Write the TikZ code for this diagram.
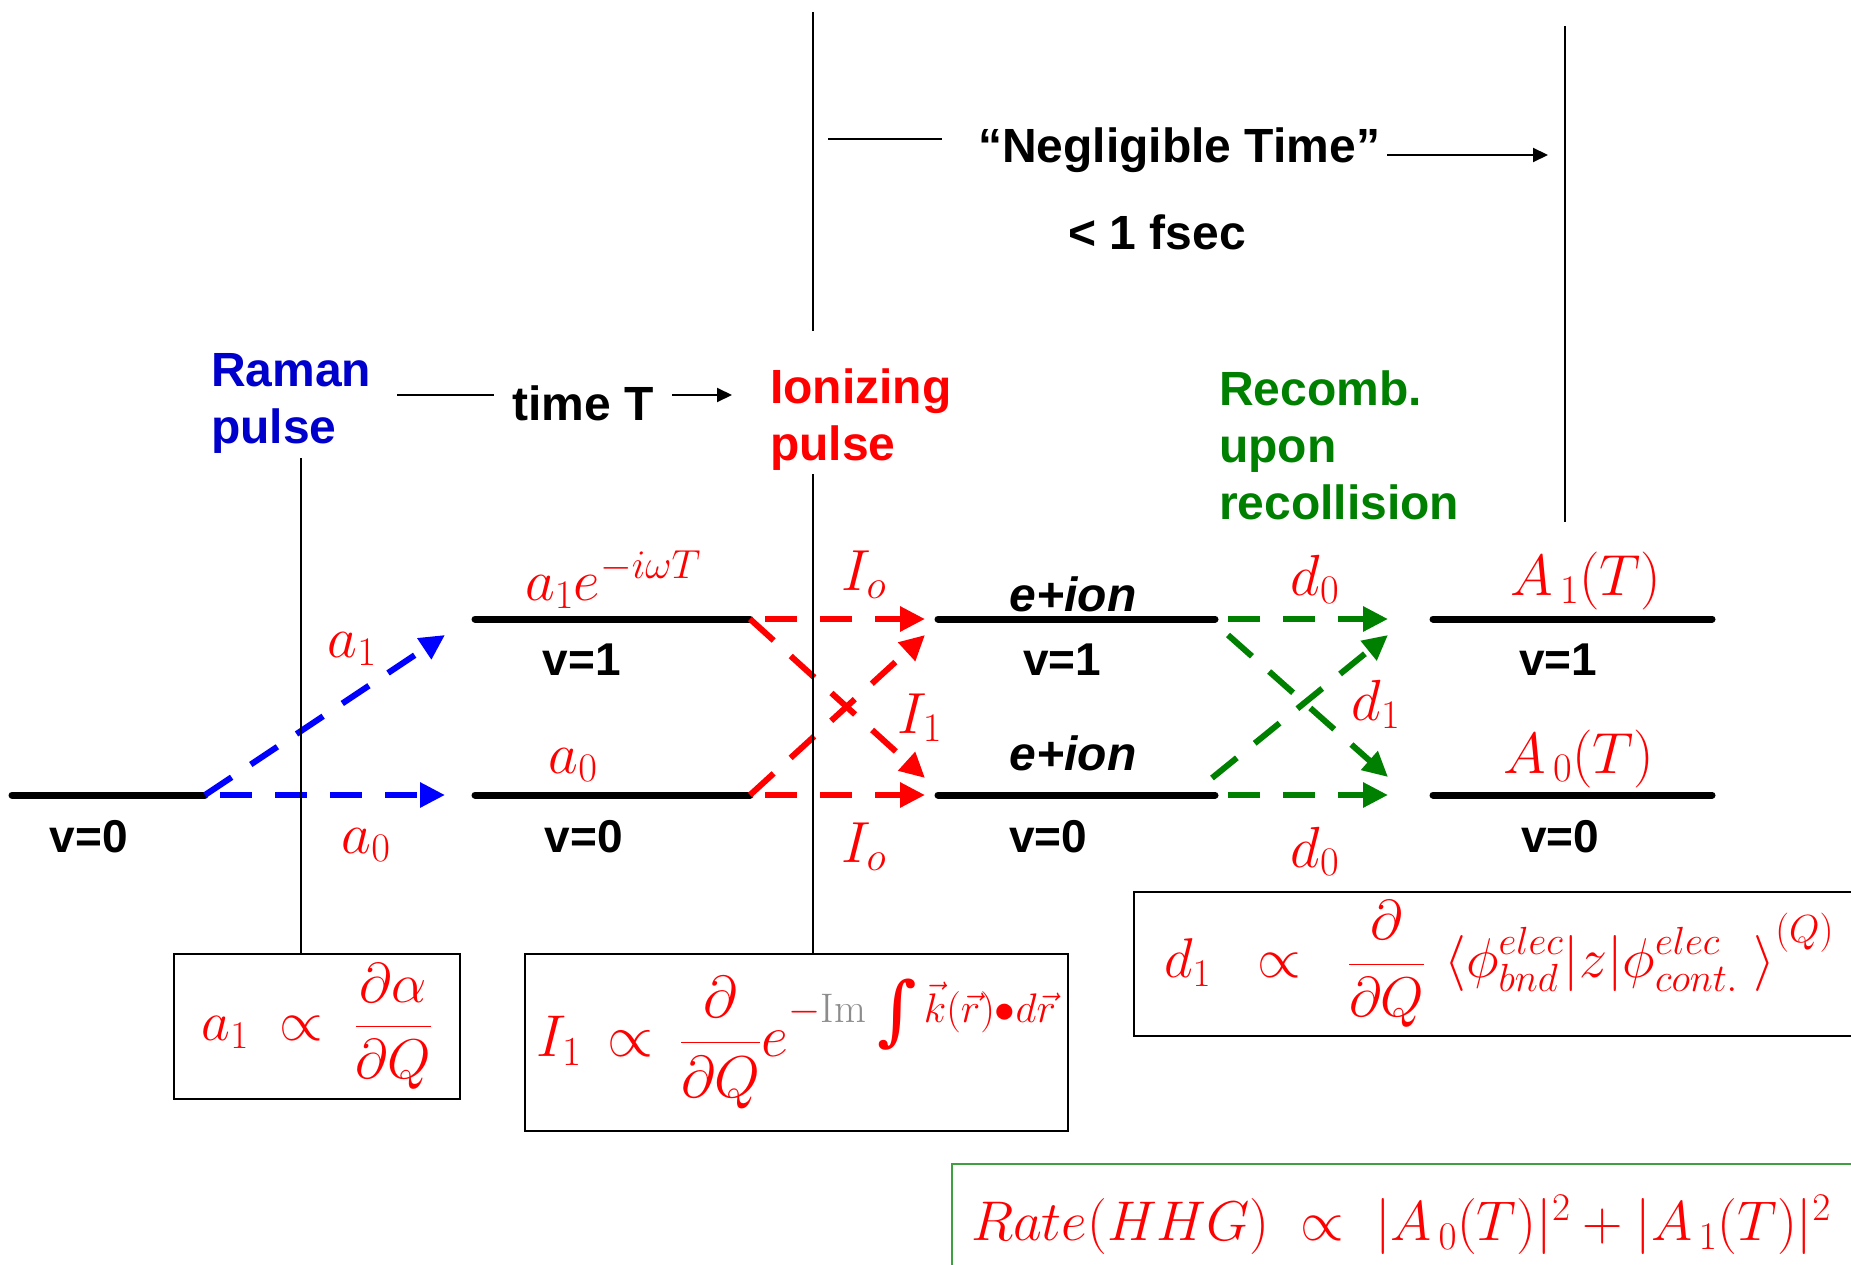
\RequirePackage{fix-cm}
\documentclass[tikz,border=0pt]{standalone}
\usepackage{graphicx}
\usepackage{fontspec}
\usepackage{xcolor}
\usepackage{tikz}
\usetikzlibrary{arrows.meta}
\newfontfamily\arialfont{Liberation Sans}
\newfontfamily\intfont{DejaVu Serif}
\definecolor{pulseblue}{HTML}{0000CC}
\definecolor{arrowblue}{HTML}{0000FF}
\definecolor{pulsered}{HTML}{FF0000}
\definecolor{pulsegreen}{HTML}{008000}
\definecolor{boxgreen}{HTML}{3FA03F}
\definecolor{imgrey}{HTML}{8C8C8C}
\newcommand{\bigint}{\mbox{\intfont\fontsize{76}{76}\selectfont\raisebox{-14pt}{∫}}}

\tikzset{
  lvline/.style={line width=7pt, line cap=round},
  jump/.style={line width=6pt, dash pattern=on 32pt off 23pt,
    -{Triangle[length=25pt,width=24pt]}},
  hjump/.style={jump, dash phase=40pt},
  guide/.style={line width=2pt},
  timearrow/.style={guide, -{Triangle[length=15pt,width=14pt]}},
  title/.style={font=\arialfont\bfseries\fontsize{48}{57}\selectfont,
    inner sep=0pt, align=left, anchor=base west},
  vlab/.style={font=\arialfont\bfseries\fontsize{46}{52}\selectfont,
    inner sep=0pt, anchor=base},
  amp/.style={text=pulsered, inner sep=0pt, anchor=base,
    font=\fontsize{58}{64}\selectfont},
  formula/.style={draw, line width=2pt, text=pulsered, inner sep=0pt,
    font=\fontsize{56}{64}\selectfont}
}

\begin{document}
\begin{tikzpicture}[x=1pt, y=-1pt]
  \useasboundingbox (0,0) rectangle (1851,1265);
  \clip (0,0) rectangle (1851,1265);

  % titles (base = last line)
  \node[title, text=pulseblue] (raman) at (211,443) {Raman\\pulse};
  \node[title, text=pulsered] (ionize) at (770,460) {Ionizing\\pulse};
  \node[title, text=pulsegreen] (recomb) at (1219,519) {Recomb.\\upon\\recollision};
  \node[title, anchor=base, inner xsep=18pt] (timeT) at (583,420) {time T};
  \node[title] (negl) at (978,163) {“Negligible Time”};
  \node[title, anchor=base] (fsec) at (1157,250) {< 1 fsec};

  % time arrows
  \coordinate (tstart) at (397,395);
  \coordinate (tend) at (732,395);
  \draw[guide] (tstart) -- (tstart -| timeT.west);
  \draw[timearrow] (tend -| timeT.east) -- (tend);
  \coordinate (nstart) at (828,139);
  \coordinate (nend) at (1548,155);
  \draw[guide] (nstart) -- ([xshift=-36pt]negl.west |- nstart);
  \draw[timearrow] ([xshift=7pt]negl.east |- nend) -- (nend);

  % energy levels
  \coordinate (g0l) at (12,795);   \coordinate (g0r) at (205,795);
  \coordinate (u2l) at (475,619);  \coordinate (u2r) at (750,619);
  \coordinate (l2l) at (475,795);  \coordinate (l2r) at (750,795);
  \coordinate (u3l) at (938,619);  \coordinate (u3r) at (1215,619);
  \coordinate (l3l) at (938,795);  \coordinate (l3r) at (1215,795);
  \coordinate (u4l) at (1433,619); \coordinate (u4r) at (1712,619);
  \coordinate (l4l) at (1433,795); \coordinate (l4r) at (1712,795);
  \foreach \a/\b in {g0l/g0r, u2l/u2r, l2l/l2r, u3l/u3r, l3l/l3r, u4l/u4r, l4l/l4r}
    \draw[lvline] (\a) -- (\b);

  \node[vlab] (v00) at (89,852) {v=0};
  \node[vlab] (v21) at (582,675) {v=1};
  \node[vlab] (v20) at (584,852) {v=0};
  \node[vlab] (v31) at (1062,675) {v=1};
  \node[vlab] (v30) at (1048,852) {v=0};
  \node[vlab] (v41) at (1558,675) {v=1};
  \node[vlab] (v40) at (1560,852) {v=0};
  \node[vlab, font=\arialfont\bfseries\itshape\fontsize{48}{52}\selectfont]
    (ion1) at (1073,611) {e+ion};
  \node[vlab, font=\arialfont\bfseries\itshape\fontsize{48}{52}\selectfont]
    (ion0) at (1073,770) {e+ion};

  % Raman excitation
  \coordinate (b0) at (445,795);
  \coordinate (b1) at (445,635);
  \draw[jump, arrowblue] (g0r) -- (b1);
  \draw[hjump, arrowblue] (g0r) -- (b0);

  % ionization
  \coordinate (r11) at (925,619);
  \coordinate (r10) at (925,778);
  \coordinate (r01) at (925,635);
  \coordinate (r00) at (925,795);
  \draw[hjump, pulsered] (u2r) -- (r11);
  \draw[jump, pulsered] (u2r) -- (r10);
  \draw[jump, pulsered] (l2r) -- (r01);
  \draw[hjump, pulsered] (l2r) -- (r00);

  % recombination
  \coordinate (s11) at (1228,619);
  \coordinate (s10) at (1228,635);
  \coordinate (s01) at (1212,778);
  \coordinate (s00) at (1228,795);
  \coordinate (e11) at (1388,619);
  \coordinate (e10) at (1388,777);
  \coordinate (e01) at (1388,635);
  \coordinate (e00) at (1388,795);
  \draw[jump, pulsegreen] (s11) -- (e11);
  \draw[jump, pulsegreen] (s10) -- (e10);
  \draw[jump, pulsegreen] (s01) -- (e01);
  \draw[jump, pulsegreen] (s00) -- (e00);

  % amplitudes
  \node[amp] (la1) at (352,657) {$a_1$};
  \node[amp] (la0) at (366,853) {$a_0$};
  \node[amp] (lphase) at (613,600) {$a_1e^{-i\omega T}$};
  \node[amp] (lb0) at (573,773) {$a_0$};
  \node[amp] (li0u) at (864,590) {$I_o$};
  \node[amp] (li1) at (920,733) {$I_1$};
  \node[amp] (li0l) at (864,862) {$I_o$};
  \node[amp] (ld0u) at (1315,595) {$d_0$};
  \node[amp] (ld1) at (1376,720) {$d_1$};
  \node[amp] (ld0l) at (1315,867) {$d_0$};
  \node[amp] (lA1) at (1586,595) {$A_{\,1}(T)$};
  \node[amp] (lA0) at (1579,773) {$A_{\,0}(T)$};

  % formula boxes
  \node[formula, minimum width=286pt, minimum height=145pt] (rbox)
    at (317,1026.5) {$a_1\;\propto\;\displaystyle\frac{\partial\alpha}{\partial Q}$};
  \node[formula, minimum width=543pt, minimum height=177pt,
    font=\fontsize{59}{66}\selectfont] (ibox)
    at (796.5,1042.5) {$I_1\,\propto\,\displaystyle\frac{\partial}{\partial Q}
      e^{-\textcolor{imgrey}{\mathrm{Im}}\;\bigint\,\vec{k}(\vec{r})\bullet d\vec{r}}$};
  \node[formula, anchor=north west, minimum height=144pt, text width=720pt,
    inner xsep=30pt] (dbox) at (1133,891)
    {$d_1\;\;\propto\;\;\displaystyle\frac{\partial}{\partial Q}\,
      \left\langle\rule[-0.4em]{0pt}{1.3em}\phi^{elec}_{bnd}|z|\phi^{elec}_{cont.}\;\right\rangle^{(Q)}$};
  \node[formula, draw=boxgreen, anchor=north west, minimum height=122pt,
    text width=900pt, inner xsep=19pt] (hbox) at (951,1163)
    {$Rate(HHG)\;\propto\;|A_{\,0}(T)|^2+|A_{\,1}(T)|^2$};

  % pulse markers
  \coordinate (ramantop) at (301,458);
  \coordinate (iontop) at (813,474);
  \coordinate (ionup1) at (813,12);
  \coordinate (ionup2) at (813,331);
  \coordinate (recup1) at (1565,26);
  \coordinate (recup2) at (1565,522);
  \draw[guide] (ramantop) -- (ramantop |- rbox.north);
  \draw[guide] (iontop) -- (iontop |- ibox.north);
  \draw[guide] (ionup1) -- (ionup2);
  \draw[guide] (recup1) -- (recup2);
\end{tikzpicture}
\end{document}
